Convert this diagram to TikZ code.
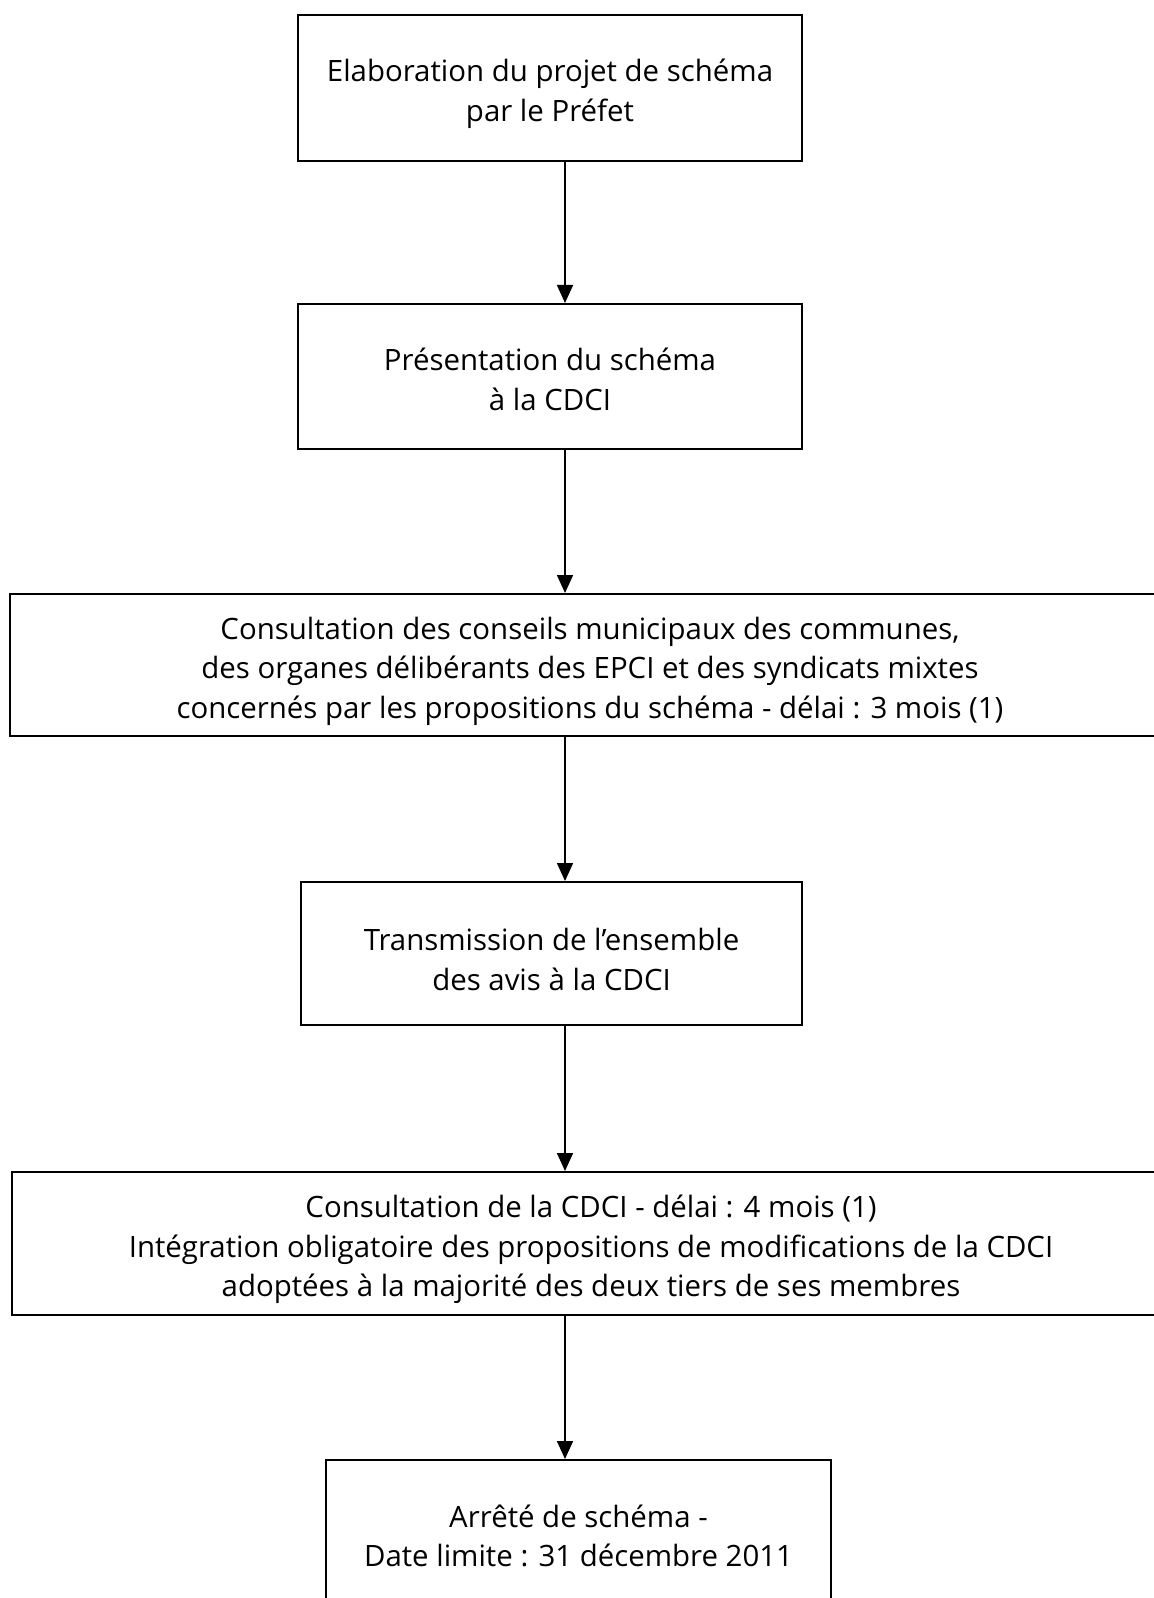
\documentclass[tikz,border=0pt]{standalone}
\usepackage{fontspec}
\setmainfont{Open Sans}
\usetikzlibrary{arrows.meta}
\begin{document}
\begin{tikzpicture}[x=0.5pt,y=-0.5pt,
 box/.style={draw, line width=1pt, inner sep=0pt},
 txt/.style={align=center, inner sep=0pt, font=\fontsize{14.7}{19.75}\selectfont},
 arr/.style={line width=0.8pt, -{Triangle[width=8pt,length=9pt]}}]
\useasboundingbox[fill=white] (0,0) rectangle (1154,1598);
\coordinate (ax) at (565,0);
\node[box, minimum width=252pt, minimum height=73pt,
  label={[txt,yshift=-3pt]center:{Elaboration du projet de schéma\\par le Préfet}}] (b1) at (550,88) {};
\node[box, minimum width=252pt, minimum height=72.5pt,
  label={[txt,yshift=-1.5pt]center:{Présentation du schéma\\à la CDCI}}] (b2) at (550,376.5) {};
\node[box, minimum width=580pt, minimum height=71pt,
  label={[txt,yshift=-3pt]center:{Consultation des conseils municipaux des communes,\\des organes délibérants des EPCI et des syndicats mixtes\\concernés par les propositions du schéma - délai : 3 mois (1)}}] (b3) at (590,665) {};
\node[box, minimum width=250.5pt, minimum height=71.5pt,
  label={[txt,yshift=-3pt]center:{Transmission de l’ensemble\\des avis à la CDCI}}] (b4) at (551.5,953.5) {};
\node[box, minimum width=579pt, minimum height=71.5pt,
  label={[txt,yshift=-3pt]center:{Consultation de la CDCI - délai : 4 mois (1)\\Intégration obligatoire des propositions de modifications de la CDCI\\adoptées à la majorité des deux tiers de ses membres}}] (b5) at (591,1243.5) {};
\node[box, minimum width=252.5pt, minimum height=76pt,
  label={[txt]center:{Arrêté de schéma -\\Date limite : 31 décembre 2011}}] (b6) at (578.5,1536) {};
\draw[arr] (b1.south -| ax) -- (b2.north -| ax);
\draw[arr] (b2.south -| ax) -- (b3.north -| ax);
\draw[arr] (b3.south -| ax) -- (b4.north -| ax);
\draw[arr] (b4.south -| ax) -- (b5.north -| ax);
\draw[arr] (b5.south -| ax) -- (b6.north -| ax);
\end{tikzpicture}
\end{document}
